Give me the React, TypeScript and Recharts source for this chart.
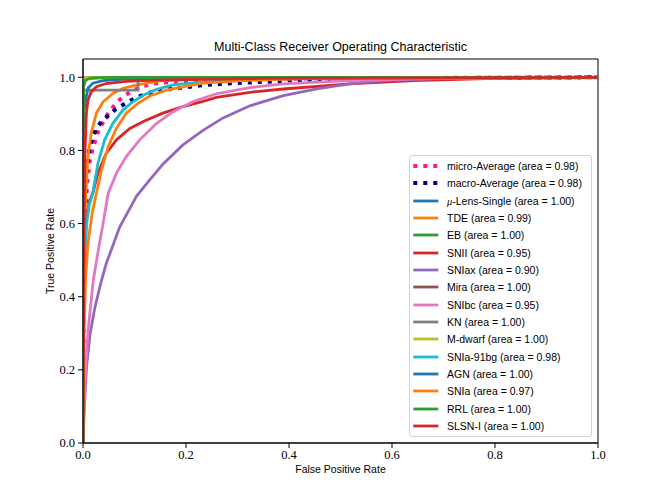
import React from 'react';
import { LineChart, Line, XAxis, YAxis, Legend, ReferenceArea } from 'recharts';

type P = [number, number];

const microAverage: P[] = [[0,0],[0.0005,0.3],[0.002,0.5],[0.004,0.6],[0.008,0.71],[0.013,0.77],[0.019,0.806],[0.03,0.855],[0.047,0.897],[0.057,0.917],[0.07,0.937],[0.083,0.952],[0.1,0.966],[0.115,0.975],[0.133,0.981],[0.15,0.985],[0.19,0.989],[0.29,0.994],[0.45,0.997],[1,1]];
const macroAverage: P[] = [[0,0],[0.0005,0.3],[0.002,0.55],[0.0065,0.738],[0.012,0.8],[0.018,0.833],[0.026,0.86],[0.036,0.879],[0.062,0.911],[0.078,0.925],[0.094,0.938],[0.113,0.95],[0.133,0.959],[0.155,0.964],[0.175,0.969],[0.194,0.972],[0.23,0.978],[0.279,0.983],[0.343,0.987],[0.4,0.991],[0.5,0.995],[0.7,0.998],[1,1]];
const muLensSingle: P[] = [[0,0],[0,0.97],[0.003,0.99],[0.01,0.997],[0.05,1],[1,1]];
const tde: P[] = [[0,0],[0.001,0.4],[0.003,0.6],[0.0065,0.71],[0.0097,0.783],[0.016,0.847],[0.026,0.902],[0.039,0.933],[0.058,0.956],[0.078,0.97],[0.107,0.98],[0.15,0.99],[0.25,0.997],[1,1]];
const eb: P[] = [[0,0],[0,0.985],[0.003,0.995],[0.01,1],[1,1]];
const snii: P[] = [[0,0],[0.001,0.3],[0.003,0.45],[0.006,0.6],[0.012,0.66],[0.019,0.683],[0.029,0.738],[0.045,0.792],[0.065,0.829],[0.091,0.86],[0.117,0.879],[0.155,0.902],[0.194,0.92],[0.233,0.934],[0.259,0.945],[0.324,0.959],[0.389,0.968],[0.518,0.982],[0.641,0.991],[0.8,0.997],[1,1]];
const sniax: P[] = [[0,0],[0.002,0.08],[0.007,0.21],[0.014,0.3],[0.023,0.37],[0.035,0.44],[0.045,0.49],[0.071,0.59],[0.104,0.675],[0.13,0.72],[0.155,0.762],[0.194,0.815],[0.233,0.855],[0.272,0.889],[0.324,0.922],[0.389,0.95],[0.454,0.968],[0.518,0.982],[0.583,0.991],[0.65,0.995],[0.75,0.998],[0.85,0.999],[1,1]];
const mira: P[] = [[0,0],[0,0.995],[0.002,1],[1,1]];
const snibc: P[] = [[0,0],[0.002,0.1],[0.004,0.17],[0.01,0.31],[0.02,0.445],[0.03,0.53],[0.039,0.6],[0.049,0.683],[0.065,0.738],[0.084,0.783],[0.11,0.829],[0.143,0.874],[0.175,0.906],[0.214,0.934],[0.259,0.955],[0.324,0.972],[0.389,0.982],[0.518,0.991],[0.7,0.997],[1,1]];
const kn: P[] = [[0,0],[0,0.965],[0.107,0.965],[0.107,1],[1,1]];
const mDwarf: P[] = [[0,0],[0,0.99],[0.005,1],[1,1]];
const snia91bg: P[] = [[0,0],[0.001,0.3],[0.003,0.5],[0.007,0.6],[0.012,0.65],[0.019,0.683],[0.029,0.765],[0.042,0.829],[0.058,0.874],[0.078,0.911],[0.097,0.933],[0.117,0.951],[0.143,0.967],[0.175,0.979],[0.214,0.985],[0.259,0.989],[0.4,0.996],[1,1]];
const agn: P[] = [[0,0],[0.001,0.9],[0.005,0.938],[0.0097,0.97],[0.019,0.984],[0.039,0.991],[0.078,0.995],[0.15,0.998],[1,1]];
const snia: P[] = [[0,0],[0.002,0.3],[0.005,0.45],[0.01,0.55],[0.018,0.63],[0.026,0.683],[0.036,0.747],[0.049,0.811],[0.065,0.861],[0.084,0.902],[0.107,0.929],[0.13,0.949],[0.162,0.965],[0.194,0.974],[0.233,0.984],[0.324,0.992],[0.45,0.997],[1,1]];
const rrl: P[] = [[0,0],[0.001,0.975],[0.005,0.992],[0.015,0.998],[0.05,1],[1,1]];
const slsnI: P[] = [[0,0],[0.002,0.6],[0.004,0.8],[0.0065,0.9],[0.0097,0.938],[0.016,0.96],[0.026,0.974],[0.045,0.983],[0.078,0.988],[0.11,0.991],[0.2,0.994],[0.35,0.997],[1,1]];

const seriesNames = ['micro-Average (area = 0.98)','macro-Average (area = 0.98)','μ-Lens-Single (area = 1.00)','TDE (area = 0.99)','EB (area = 1.00)','SNII (area = 0.95)','SNIax (area = 0.90)','Mira (area = 1.00)','SNIbc (area = 0.95)','KN (area = 1.00)','M-dwarf (area = 1.00)','SNIa-91bg (area = 0.98)','AGN (area = 1.00)','SNIa (area = 0.97)','RRL (area = 1.00)','SLSN-I (area = 1.00)'];
const seriesColors = ['#ff1493','#000080','#1f77b4','#ff7f0e','#2ca02c','#d62728','#9467bd','#8c564b','#e377c2','#7f7f7f','#bcbd22','#17becf','#1f77b4','#ff7f0e','#2ca02c','#d62728'];
const seriesPoints = [microAverage, macroAverage, muLensSingle, tde, eb, snii, sniax, mira, snibc, kn, mDwarf, snia91bg, agn, snia, rrl, slsnI];
const dottedSeries = [true, true, false, false, false, false, false, false, false, false, false, false, false, false, false, false];

const xTicks = [0, 0.2, 0.4, 0.6, 0.8, 1.0];
const yTicks = [0, 0.2, 0.4, 0.6, 0.8, 1.0];

const SANS = '"Liberation Sans", Arial, sans-serif';
const SERIF = '"Liberation Serif", "Times New Roman", serif';

const renderName = (name: string) => {
  if (name.startsWith('μ')) {
    return (<><span style={{ fontStyle: 'italic', fontFamily: SERIF }}>μ</span>{name.slice(1)}</>);
  }
  return name;
};

const LegendBox = () => (
  <div style={{ width: 183, height: 282, boxSizing: 'border-box', border: '1px solid #d3d3d3', borderRadius: 3, background: 'rgba(255,255,255,0.85)', paddingTop: 1.5 }}>
    {seriesNames.map((name, i) => {
      const dotted = dottedSeries[i];
      return (
        <div key={i} style={{ display: 'flex', alignItems: 'center', height: 17.33 }}>
          <svg width={37} height={10} style={{ flex: 'none' }}>
            <line x1={3.3} x2={28.3} y1={5} y2={5} stroke={seriesColors[i]} strokeWidth={dotted ? 4 : 2.8} strokeDasharray={dotted ? '4 6' : undefined} />
          </svg>
          <span style={{ fontFamily: SANS, fontSize: 10.5, color: '#000', whiteSpace: 'nowrap' }}>{renderName(name)}</span>
        </div>
      );
    })}
  </div>
);

export default function App() {
  return (
    <div style={{ position: 'absolute', left: 0, top: 0, width: 664, height: 498, background: '#fff' }}>
      <div style={{ position: 'absolute', left: 83, width: 515, top: 38, textAlign: 'center', fontFamily: SANS, fontSize: 12.5, color: '#000', lineHeight: '18px' }}>
        Multi-Class Receiver Operating Characteristic
      </div>
      <LineChart width={664} height={498} margin={{ top: 59, right: 66, left: 0, bottom: 0 }}>
        <XAxis xAxisId="b" dataKey="x" type="number" domain={[0, 1]} ticks={xTicks} allowDataOverflow
          tickFormatter={(v: number) => v.toFixed(1)} height={55} stroke="#000" tickSize={5} tickMargin={2}
          tick={{ fontFamily: SERIF, fontSize: 12.5, fill: '#000' }}
          label={{ value: 'False Positive Rate', position: 'insideBottom', offset: 25, style: { fontFamily: SANS, fontSize: 10.5, fill: '#000' } }} />
        <YAxis yAxisId="l" type="number" domain={[0, 1.05]} ticks={yTicks} allowDataOverflow
          tickFormatter={(v: number) => v.toFixed(1)} width={83} stroke="#000" tickSize={5} tickMargin={3}
          tick={{ fontFamily: SERIF, fontSize: 12.5, fill: '#000' }}
          label={{ value: 'True Positive Rate', angle: -90, position: 'insideLeft', offset: 50, style: { fontFamily: SANS, fontSize: 10.5, fill: '#000', textAnchor: 'middle' } }} />
        {seriesPoints.map((pts, i) => (
          <Line key={i} xAxisId="b" yAxisId="l" type="linear" data={pts.map(([x, y]) => ({ x, y }))} dataKey="y"
            name={seriesNames[i]} stroke={seriesColors[i]} strokeWidth={dottedSeries[i] ? 4 : 2.8}
            strokeDasharray={dottedSeries[i] ? '4 6' : undefined} dot={false} activeDot={false} isAnimationActive={false} />
        ))}
        <ReferenceArea xAxisId="b" yAxisId="l" x1={0} x2={1} y1={0} y2={1.05} fill="none" fillOpacity={0} stroke="#000" strokeWidth={1} ifOverflow="visible" />
        <Legend layout="vertical" align="center" verticalAlign="middle" content={LegendBox}
          wrapperStyle={{ position: 'absolute', left: 409, top: 155, width: 183, height: 282 }} />
      </LineChart>
    </div>
  );
}
